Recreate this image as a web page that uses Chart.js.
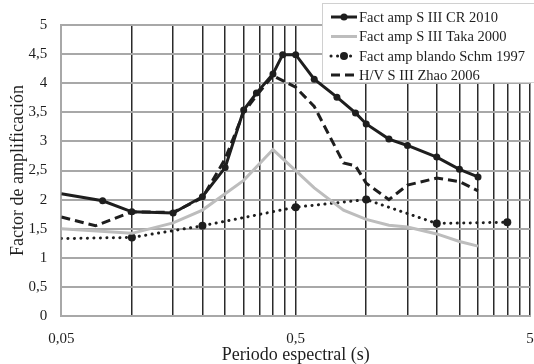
<!DOCTYPE html>
<html>
<head>
<meta charset="utf-8">
<script src="https://cdn.jsdelivr.net/npm/chart.js@4/dist/chart.umd.min.js"></script>
<style>
  html, body { margin: 0; padding: 0; background: #fff; overflow: hidden; }
</style>
</head>
<body>
<canvas id="myChart" width="534" height="364"></canvas>
<script>
// periodos (s) y factores
var crX = [0.05, 0.075, 0.1, 0.15, 0.2, 0.25, 0.3, 0.34, 0.4, 0.44, 0.5, 0.6, 0.75, 0.9, 1.0, 1.25, 1.5, 2.0, 2.5, 3.0];
var crY = [2.1, 1.98, 1.79, 1.77, 2.05, 2.55, 3.54, 3.83, 4.16, 4.49, 4.49, 4.07, 3.76, 3.49, 3.30, 3.04, 2.93, 2.73, 2.52, 2.39];

var takaX = [0.05, 0.1, 0.15, 0.2, 0.3, 0.4, 0.6, 0.8, 1.0, 1.25, 1.5, 2.0, 2.5, 3.0];
var takaY = [1.5, 1.42, 1.6, 1.82, 2.33, 2.86, 2.2, 1.82, 1.66, 1.56, 1.53, 1.41, 1.28, 1.2];

var schmX = [0.05, 0.1, 0.2, 0.5, 1.0, 2.0, 4.0];
var schmY = [1.33, 1.35, 1.55, 1.87, 2.0, 1.59, 1.61];

var zhaoX = [0.05, 0.07, 0.1, 0.15, 0.2, 0.25, 0.3, 0.35, 0.4, 0.5, 0.6, 0.8, 0.9, 1.0, 1.25, 1.5, 2.0, 2.5, 3.0];
var zhaoY = [1.7, 1.55, 1.79, 1.78, 2.03, 2.7, 3.5, 3.85, 4.13, 3.93, 3.6, 2.63, 2.58, 2.28, 2.0, 2.25, 2.37, 2.31, 2.15];

var seriesNames = ['Fact amp S III CR 2010', 'Fact amp S III Taka 2000', 'Fact amp blando Schm 1997', 'H/V S III Zhao 2006'];

// lineas verticales del eje log y las que llevan etiqueta
var xGrid = [0.05, 0.1, 0.15, 0.2, 0.25, 0.3, 0.35, 0.4, 0.45, 0.5,
             1, 1.5, 2, 2.5, 3, 3.5, 4, 4.5, 5];
var xLabels = [0.05, 0.5, 5];

var serif = 'Liberation Serif';
var ink = '#1e1e1e';
var noTick = 'rgba(0,0,0,0)';

function pts(xs, ys) {
  return xs.map(function (x, i) { return { x: x, y: ys[i] }; });
}
function comma(v) {
  return String(v).replace('.', ',');
}

// leyenda dentro del grafico, arriba a la derecha
var boxLegend = {
  id: 'boxLegend',
  afterDraw: function (chart) {
    var c = chart.ctx;
    c.save();
    c.fillStyle = '#fff';
    c.fillRect(323, 4, 220, 79);
    c.strokeStyle = '#d0d0d0';
    c.lineWidth = 1;
    c.strokeRect(322.5, 3.5, 220, 79);
    var rows = [17, 36.5, 56, 75];
    chart.data.datasets.forEach(function (ds, i) {
      var y = rows[i];
      c.strokeStyle = ds.borderColor;
      c.lineWidth = ds.borderWidth;
      c.lineCap = ds.borderCapStyle || 'butt';
      c.setLineDash(ds.borderDash || []);
      c.beginPath();
      c.moveTo(331, y);
      c.lineTo(357, y);
      c.stroke();
      c.setLineDash([]);
      if (ds.legendDot) {
        c.fillStyle = ds.borderColor;
        c.beginPath();
        c.arc(344, y, ds.legendDot, 0, Math.PI * 2);
        c.fill();
      }
      c.fillStyle = ink;
      c.font = '14.5px "' + serif + '"';
      c.textAlign = 'left';
      c.textBaseline = 'middle';
      c.fillText(ds.label, 359, y + 1);
    });
    c.restore();
  }
};

var ctx = document.getElementById('myChart');
var myChart = new Chart(ctx, {
  type: 'line',
  data: {
    datasets: [
      {
        label: seriesNames[0],
        data: pts(crX, crY),
        borderColor: ink,
        backgroundColor: ink,
        borderWidth: 3,
        pointRadius: crX.map(function (v, i) { return i === 0 ? 0 : 3.5; }),
        pointBackgroundColor: ink,
        pointBorderWidth: 0,
        legendDot: 3.5
      },
      {
        label: seriesNames[1],
        data: pts(takaX, takaY),
        borderColor: '#bdbdbd',
        backgroundColor: '#bdbdbd',
        borderWidth: 3,
        pointRadius: 0
      },
      {
        label: seriesNames[2],
        data: pts(schmX, schmY),
        borderColor: ink,
        backgroundColor: ink,
        borderWidth: 3,
        borderDash: [0.1, 6.4],
        borderCapStyle: 'round',
        pointRadius: schmX.map(function (v, i) { return i === 0 ? 0 : 4; }),
        pointBackgroundColor: ink,
        pointBorderWidth: 0,
        legendDot: 4
      },
      {
        label: seriesNames[3],
        data: pts(zhaoX, zhaoY),
        borderColor: ink,
        backgroundColor: ink,
        borderWidth: 3,
        borderDash: [9, 5],
        pointRadius: 0
      }
    ]
  },
  options: {
    responsive: false,
    animation: false,
    layout: { padding: { left: 7, top: 25, right: 0, bottom: 0 } },
    plugins: {
      legend: { display: false },
      tooltip: { enabled: false }
    },
    scales: {
      x: {
        type: 'logarithmic',
        min: 0.05,
        max: 5,
        afterBuildTicks: function (scale) {
          scale.ticks = xGrid.map(function (v) { return { value: v }; });
        },
        ticks: {
          autoSkip: false,
          maxRotation: 0,
          padding: 0,
          color: ink,
          font: { family: serif, size: 15 },
          major: { enabled: false },
          callback: function (v) {
            return xLabels.indexOf(v) >= 0 ? comma(v) : '';
          }
        },
        grid: {
          drawTicks: true,
          tickLength: 14,
          tickColor: noTick,
          color: function (c) {
            return c.tick && c.tick.value === 0.05 ? '#a8a8a8' : '#2a2a2a';
          },
          lineWidth: function (c) {
            return c.tick && c.tick.value === 0.05 ? 2 : 1.5;
          }
        },
        border: { color: '#a8a8a8', width: 2 },
        title: {
          display: true,
          text: 'Periodo espectral (s)',
          color: ink,
          font: { family: serif, size: 18, lineHeight: 1 },
          padding: { top: -2, bottom: 0 }
        }
      },
      y: {
        min: 0,
        max: 5,
        ticks: {
          stepSize: 0.5,
          padding: 0,
          color: ink,
          font: { family: serif, size: 15 },
          callback: function (v) { return comma(v); }
        },
        grid: { drawTicks: true, tickLength: 14, tickColor: noTick, color: '#a8a8a8', lineWidth: 2 },
        border: { color: '#a8a8a8', width: 2 },
        title: {
          display: true,
          text: 'Factor de amplificación',
          color: ink,
          font: { family: serif, size: 18, lineHeight: 1.2 },
          padding: 0
        }
      }
    }
  },
  plugins: [boxLegend]
});
</script>
</body>
</html>
